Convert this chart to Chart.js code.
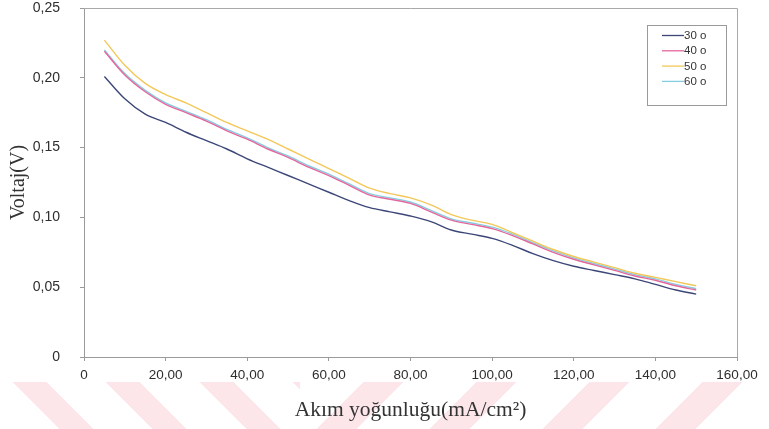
<!DOCTYPE html>
<html>
<head>
<meta charset="utf-8">
<script src="https://cdn.jsdelivr.net/npm/chart.js@4/dist/chart.umd.min.js"></script>
<style>
  html, body { margin: 0; padding: 0; background: #ffffff; }
  #wrap { position: relative; width: 769px; height: 429px; overflow: hidden; }
  /* faint pink striped band along the bottom of the page */
  #bandL, #bandR { position: absolute; top: 382px; height: 47px; }
  #bandL { left: 0; width: 300px;
    background: repeating-linear-gradient(45deg, #ffffff 0 42px, #fce6e9 42px 66px); }
  #bandR { left: 300px; width: 469px;
    background: repeating-linear-gradient(-45deg, #ffffff 0 52px, #fce6e9 52px 80px); }
  canvas { position: absolute; left: 0; top: 0; }
</style>
</head>
<body>
<div id="wrap">
  <div id="bandL"></div>
  <div id="bandR"></div>
  <canvas id="c" width="769" height="429"></canvas>
</div>
<script>
// Current density (mA/cm²)
const currentDensity = [5, 10, 15, 20, 25, 30, 35, 40, 45, 50, 55, 60, 65, 70, 75,
                        80, 85, 90, 95, 100, 105, 110, 115, 120, 125, 130, 135, 140, 145, 150];

// Cell voltage (V) at each temperature
const volt30 = [0.201, 0.185, 0.174, 0.168, 0.161, 0.155, 0.149, 0.142, 0.136, 0.130, 0.124, 0.118, 0.112, 0.107, 0.104,
                0.101, 0.097, 0.091, 0.088, 0.085, 0.080, 0.074, 0.069, 0.065, 0.062, 0.059, 0.056, 0.052, 0.048, 0.045];
const volt40 = [0.219, 0.202, 0.190, 0.181, 0.175, 0.169, 0.162, 0.156, 0.149, 0.143, 0.136, 0.130, 0.123, 0.116, 0.113,
                0.110, 0.104, 0.098, 0.095, 0.092, 0.087, 0.081, 0.075, 0.070, 0.066, 0.062, 0.058, 0.055, 0.051, 0.048];
const volt50 = [0.227, 0.209, 0.196, 0.188, 0.182, 0.175, 0.168, 0.162, 0.156, 0.149, 0.142, 0.135, 0.128, 0.121, 0.117,
                0.114, 0.109, 0.102, 0.098, 0.095, 0.089, 0.083, 0.077, 0.072, 0.068, 0.064, 0.060, 0.057, 0.054, 0.051];
const volt60 = [0.220, 0.203, 0.191, 0.182, 0.176, 0.170, 0.163, 0.157, 0.150, 0.144, 0.137, 0.131, 0.124, 0.117, 0.114,
                0.111, 0.105, 0.099, 0.096, 0.093, 0.088, 0.082, 0.076, 0.071, 0.067, 0.063, 0.059, 0.056, 0.052, 0.049];

const seriesLabels = ['30 o', '40 o', '50 o', '60 o'];
const seriesColors = ['#3c4778', '#e4679c', '#f2c85a', '#86cde2'];
const seriesValues = [volt30, volt40, volt50, volt60];

const xTickValues = [0, 20, 40, 60, 80, 100, 120, 140, 160];
const yTickValues = [0, 0.05, 0.10, 0.15, 0.20, 0.25];

function fmtComma(v) {
  if (Math.abs(v) < 1e-9) return '0';
  return v.toFixed(2).replace('.', ',');
}

// Frame on the top and right edges of the plot plus the boxed legend
const framePlugin = {
  id: 'frameAndLegend',
  afterDraw(chart) {
    const ctx = chart.ctx;
    const a = chart.chartArea;
    ctx.save();
    ctx.strokeStyle = '#a9a9a9';
    ctx.lineWidth = 1;
    ctx.beginPath();
    ctx.moveTo(a.left, a.top + 0.5);
    ctx.lineTo(a.right + 0.5, a.top + 0.5);
    ctx.lineTo(a.right + 0.5, a.bottom);
    ctx.stroke();

    // legend box
    const bw = 79, bh = 80;
    const bx = a.right - 11 - bw;
    const by = a.top + 17;
    ctx.strokeStyle = '#9a9a9a';
    ctx.strokeRect(bx + 0.5, by + 0.5, bw, bh);
    ctx.font = '11.5px "Liberation Sans", Arial, sans-serif';
    ctx.textBaseline = 'middle';
    ctx.textAlign = 'left';
    chart.data.datasets.forEach((ds, i) => {
      const y = by + 10.5 + i * 15.3;
      ctx.strokeStyle = ds.borderColor;
      ctx.lineWidth = 1.3;
      ctx.beginPath();
      ctx.moveTo(bx + 15, y);
      ctx.lineTo(bx + 37, y);
      ctx.stroke();
      ctx.fillStyle = '#333333';
      ctx.fillText(ds.label, bx + 37, y + 0.5);
    });
    ctx.restore();
  }
};

new Chart(document.getElementById('c'), {
  type: 'line',
  data: {
    datasets: seriesValues.map((vals, i) => ({
      label: seriesLabels[i],
      data: currentDensity.map((x, j) => ({ x: x, y: vals[j] })),
      borderColor: seriesColors[i],
      backgroundColor: seriesColors[i],
      borderWidth: 1.4,
      pointRadius: 0,
      tension: 0.35,
      fill: false
    }))
  },
  options: {
    responsive: false,
    animation: false,
    events: [],
    layout: { padding: { left: 0, top: 8, right: 32, bottom: 0 } },
    plugins: {
      legend: { display: false },
      tooltip: { enabled: false }
    },
    scales: {
      x: {
        type: 'linear',
        min: 0, max: 160,
        afterBuildTicks(scale) { scale.ticks = xTickValues.map(v => ({ value: v })); },
        afterFit(scale) { scale.height = 72; },
        border: { display: true, color: '#9a9a9a', width: 1 },
        grid: { drawOnChartArea: false, drawTicks: true, tickLength: 4, color: '#9a9a9a' },
        ticks: {
          callback: v => fmtComma(v),
          font: { family: '"Liberation Sans", Arial, sans-serif', size: 13.5 },
          color: '#2e2e2e',
          padding: 6,
          maxRotation: 0
        },
        title: {
          display: true,
          text: 'Akım yoğunluğu(mA/cm²)',
          font: { family: '"Liberation Serif", "Times New Roman", serif', size: 21.5 },
          color: '#333333',
          padding: { top: 0, bottom: 6 }
        }
      },
      y: {
        type: 'linear',
        min: 0, max: 0.25,
        afterBuildTicks(scale) { scale.ticks = yTickValues.map(v => ({ value: v })); },
        afterFit(scale) {
          scale.width = 84;
          // keep the wide label gap from pushing the plot down
          scale.paddingTop = 0;
          scale.paddingBottom = 0;
        },
        border: { display: true, color: '#9a9a9a', width: 1 },
        grid: { drawOnChartArea: false, drawTicks: true, tickLength: 4, color: '#9a9a9a' },
        ticks: {
          callback: v => fmtComma(v),
          font: { family: '"Liberation Sans", Arial, sans-serif', size: 14 },
          color: '#2e2e2e',
          padding: 20
        },
        title: {
          display: true,
          text: 'Voltaj(V)',
          font: { family: '"Liberation Serif", "Times New Roman", serif', size: 20 },
          color: '#333333',
          padding: { top: 7, bottom: 0 }
        }
      }
    }
  },
  plugins: [framePlugin]
});
</script>
</body>
</html>
